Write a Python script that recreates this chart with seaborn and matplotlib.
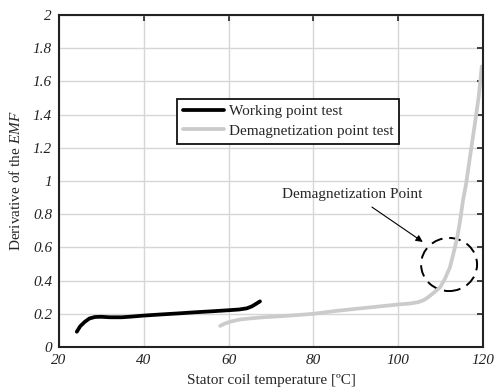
import numpy as np
import pandas as pd
import seaborn as sns
import matplotlib
matplotlib.use("Agg")
import matplotlib.pyplot as plt
from matplotlib.patches import Ellipse

# Working point test: derivative of the EMF vs stator coil temperature
work_temp = [24.2, 25.0, 26.1, 27.2, 28.5, 30.0, 32.0, 34.8, 37.0, 39.8, 44.0,
             48.5, 52.0, 56.0, 60.3, 62.5, 64.3, 65.5, 66.6, 67.4]
work_deriv = [0.092, 0.125, 0.152, 0.172, 0.181, 0.182, 0.179, 0.179, 0.183, 0.189,
              0.196, 0.203, 0.209, 0.215, 0.222, 0.226, 0.233, 0.245, 0.262, 0.275]

# Demagnetization point test
demag_temp = [58.0, 59.0, 60.3, 62.5, 65.0, 68.1, 72.0, 76.0, 80.0, 84.6, 90.0, 95.0,
              100.0, 102.8, 104.7, 106.0, 106.8, 108.3, 109.9, 111.0, 112.2, 113.0,
              113.9, 114.6, 115.3, 116.0, 116.5, 117.0, 118.0, 119.0, 119.7]
demag_deriv = [0.127, 0.14, 0.152, 0.165, 0.172, 0.179, 0.185, 0.192, 0.2, 0.215, 0.23,
               0.243, 0.256, 0.262, 0.27, 0.282, 0.295, 0.325, 0.36, 0.41, 0.48, 0.56,
               0.657, 0.76, 0.886, 0.98, 1.07, 1.157, 1.33, 1.51, 1.69]

series_names = ["Working point test", "Demagnetization point test"]
series_colors = ["#000000", "#cbcbcb"]

x_ticks = [20, 40, 60, 80, 100, 120]
y_ticks = [0, 0.2, 0.4, 0.6, 0.8, 1, 1.2, 1.4, 1.6, 1.8, 2]
y_tick_labels = ["0", "0.2", "0.4", "0.6", "0.8", "1", "1.2", "1.4", "1.6", "1.8", "2"]

df = pd.concat([
    pd.DataFrame({"temp": work_temp, "deriv": work_deriv, "test": series_names[0]}),
    pd.DataFrame({"temp": demag_temp, "deriv": demag_deriv, "test": series_names[1]}),
], ignore_index=True)

sns.set_style("white")
plt.rcParams["font.family"] = ["Liberation Serif", "DejaVu Serif"]
plt.rcParams["mathtext.fontset"] = "custom"
plt.rcParams["mathtext.rm"] = "Liberation Serif"
plt.rcParams["mathtext.it"] = "Liberation Serif:italic"

FS = 11

fig = plt.figure(figsize=(4.94, 3.90), dpi=100)
ax = fig.add_axes([59 / 494, 1 - 347 / 390, 424 / 494, 332 / 390])

sns.lineplot(data=df, x="temp", y="deriv", hue="test", hue_order=series_names,
             palette=series_colors, sort=False, estimator=None, lw=2.7, ax=ax,
             legend=True)

ax.set_xlim(20, 120)
ax.set_ylim(0, 2)
ax.set_xticks(x_ticks)
ax.set_xticklabels([str(t) for t in x_ticks], fontstyle="italic", fontsize=FS)
ax.set_yticks(y_ticks)
ax.set_yticklabels(y_tick_labels, fontstyle="italic", fontsize=FS)
ax.grid(True, color="#d6d6d6", lw=1.0)
ax.set_axisbelow(True)
ax.tick_params(direction="in", length=4, width=1.2, top=True, right=True,
               colors="#222222", labelcolor="#222222", pad=5)
for sp in ax.spines.values():
    sp.set_linewidth(1.5)
    sp.set_color("#222222")

ax.set_xlabel("Stator coil temperature [ºC]", fontsize=FS, labelpad=5)
ax.set_ylabel(r"Derivative of the $\mathit{EMF}$", fontsize=FS, labelpad=7)

leg = ax.legend(loc="upper left", bbox_to_anchor=(0.278, 0.748), borderaxespad=0,
                fancybox=False, edgecolor="#111111", framealpha=1, fontsize=FS,
                handlelength=2.7, handletextpad=0.3, borderpad=0.4, labelspacing=0.35)
leg.get_frame().set_linewidth(1.3)
for line in leg.get_lines():
    line.set_linewidth(2.7)

# Marked demagnetization region
ax.add_patch(Ellipse((112.0, 0.497), 13.2, 0.32, fill=False, edgecolor="black",
                     lw=1.4, linestyle=(0, (6, 3.5))))
ax.text(89.1, 0.916, "Demagnetization Point", ha="center", va="center", fontsize=FS)
ax.annotate("", xy=(105.8, 0.633), xytext=(93.8, 0.843),
            arrowprops=dict(arrowstyle="-|>", color="black", lw=0.8,
                            mutation_scale=10, shrinkA=0, shrinkB=0))

fig.savefig("out.png", dpi=100)
